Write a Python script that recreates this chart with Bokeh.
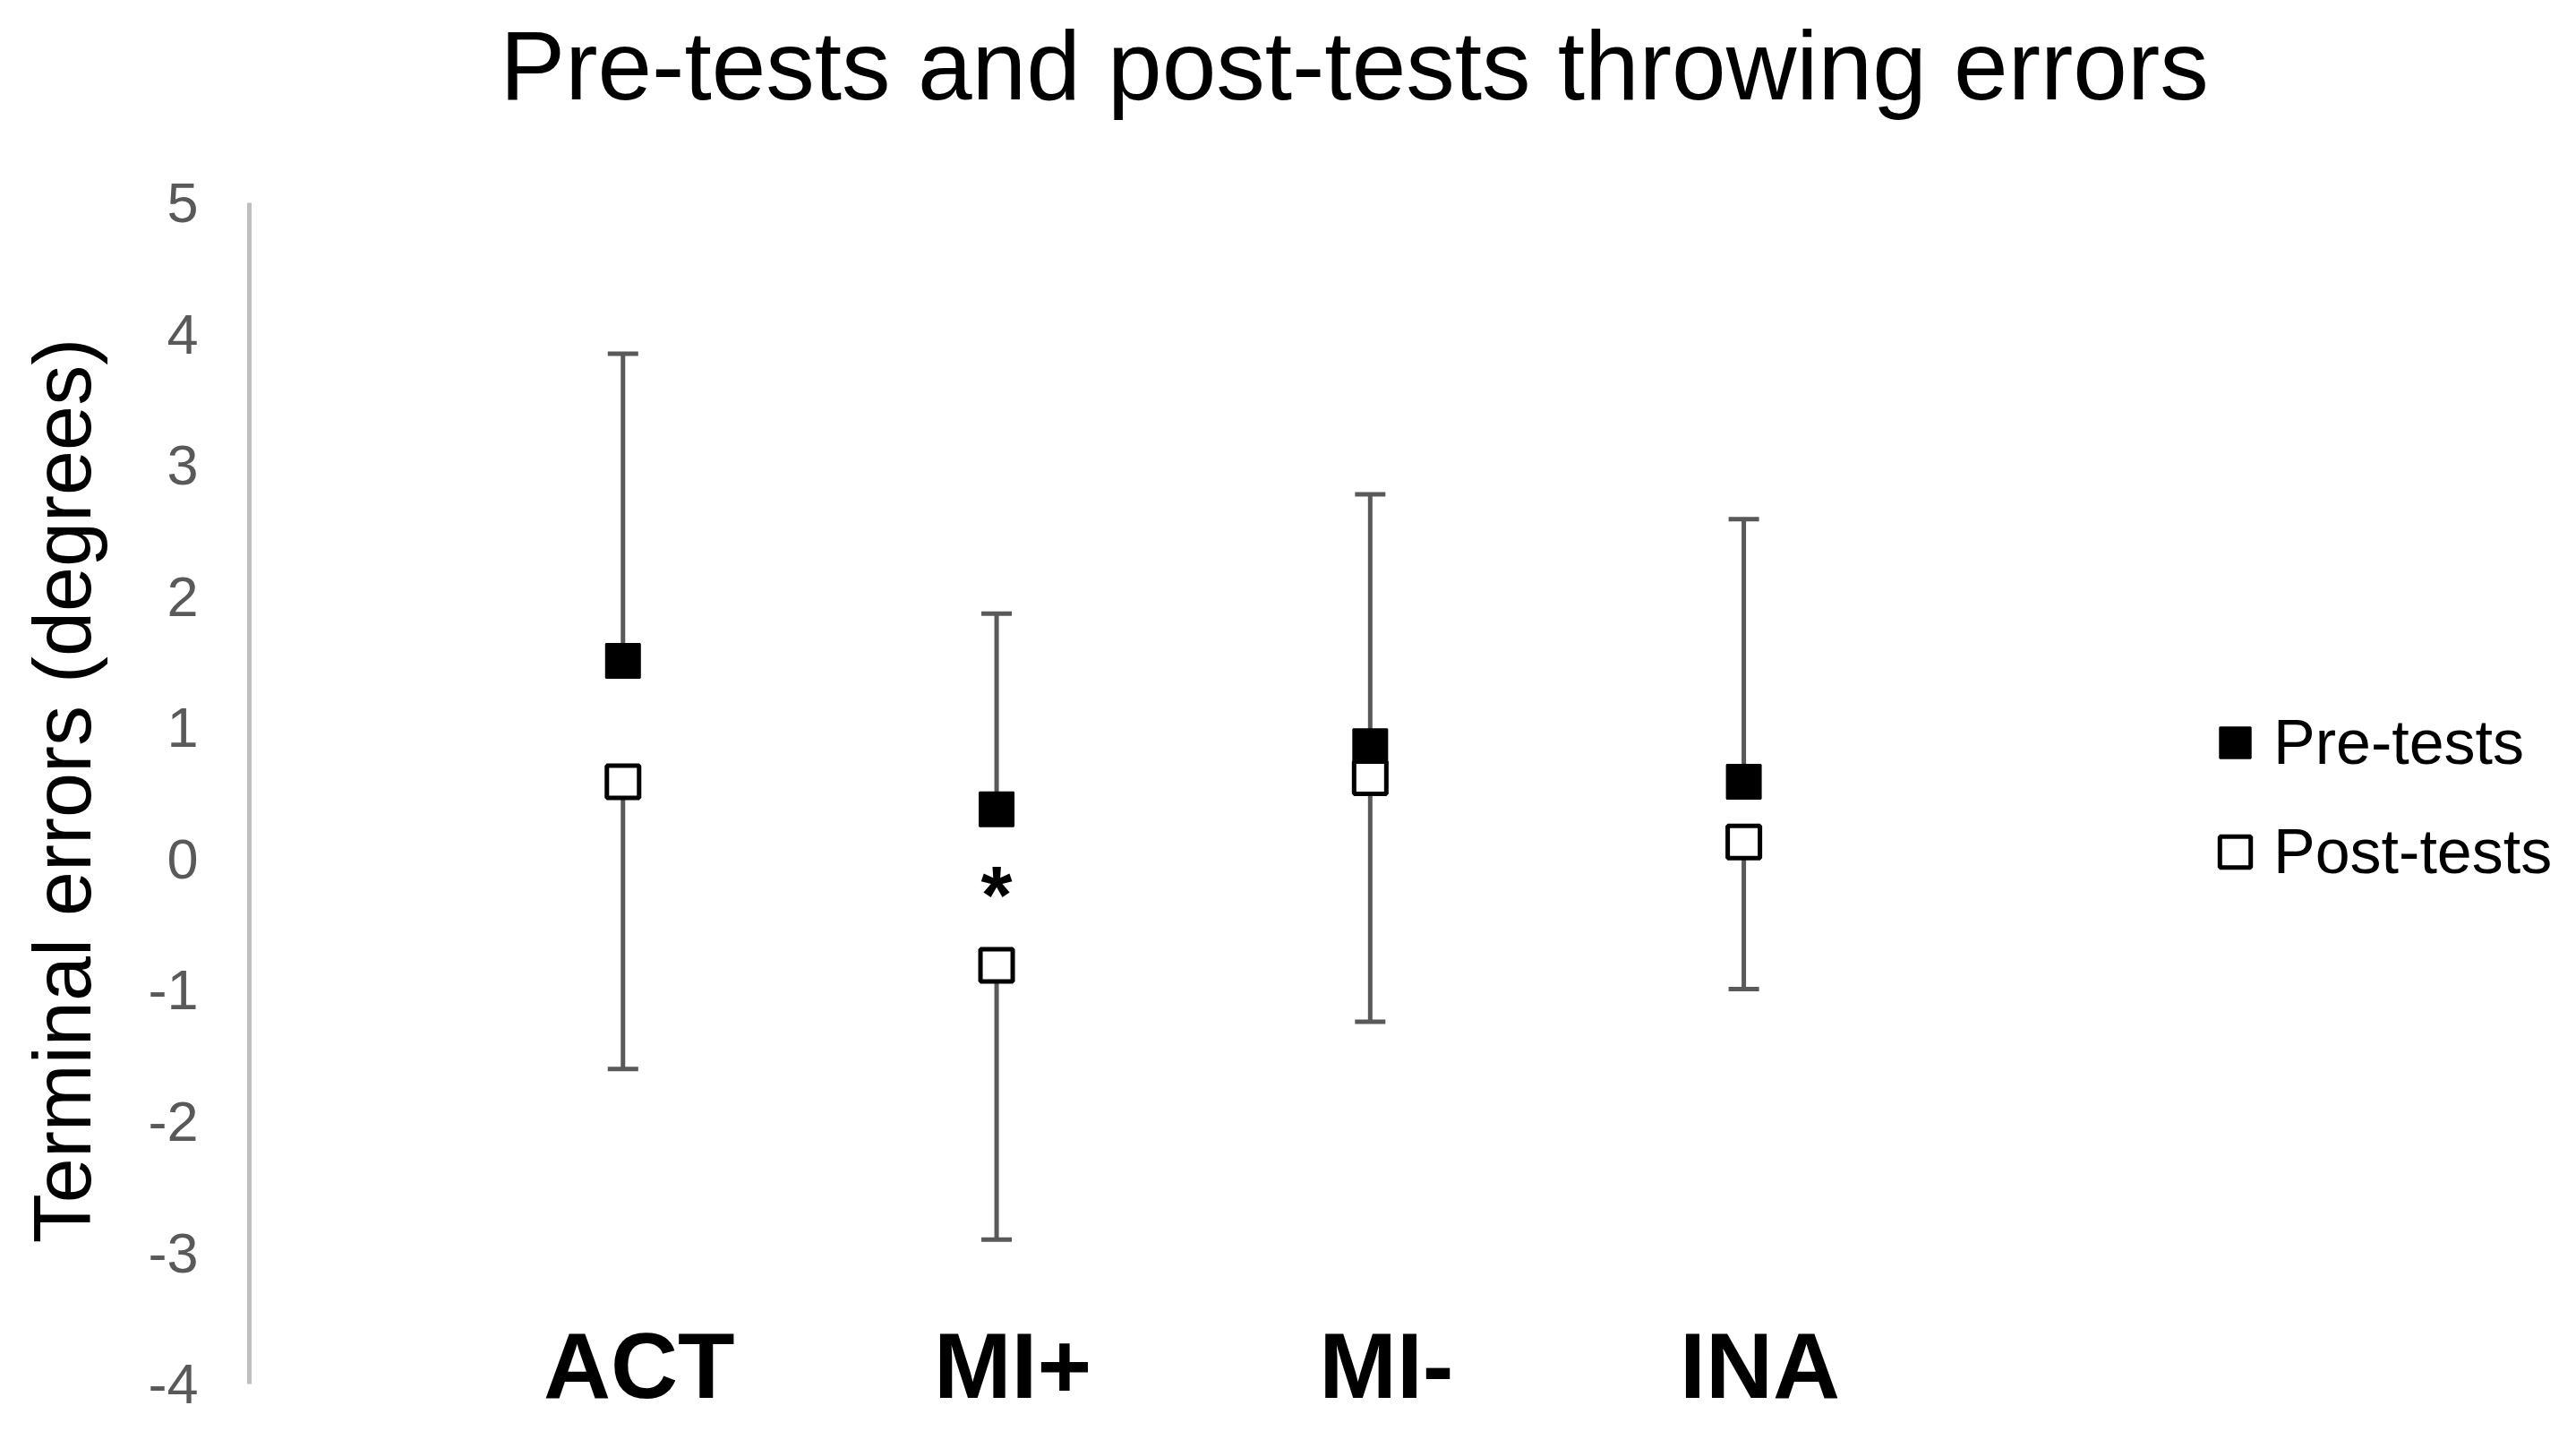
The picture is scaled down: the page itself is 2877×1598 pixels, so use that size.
from bokeh.plotting import figure
from bokeh.models import (ColumnDataSource, Whisker, TeeHead, Legend, LegendItem,
                          Range1d)
from bokeh.core.properties import value
from bokeh.embed import file_html
from bokeh.resources import INLINE

categories = ["ACT", "MI+", "MI-", "INA"]
pre_tests = [1.51, 0.38, 0.86, 0.59]
post_tests = [0.59, -0.81, 0.62, 0.13]
pre_upper = [3.85, 1.87, 2.78, 2.59]
post_lower = [-1.60, -2.90, -1.24, -0.99]
y_ticks = [-4, -3, -2, -1, 0, 1, 2, 3, 4, 5]
sig_categories = ["MI+"]
sig_y = [-0.18]
sig_text = ["*"]

FONT = "Liberation Sans"

xpos = list(range(len(categories)))
src = ColumnDataSource(dict(x=xpos, cat=categories, pre=pre_tests, post=post_tests,
                            hi=pre_upper, lo=post_lower))
sig_x = [categories.index(c) for c in sig_categories]

p = figure(width=2861, height=1582, output_backend="svg", toolbar_location=None,
           x_axis_location=None,
           x_range=Range1d(-1.0, 5.171),
           y_range=Range1d(-4.252, 5.635),
           min_border_left=278, min_border_right=8,
           min_border_top=133, min_border_bottom=0)
p.background_fill_color = "white"
p.border_fill_color = "white"
p.outline_line_color = None
p.grid.visible = False

p.title.text = "Pre-tests and post-tests throwing errors"
p.title.text_font = FONT
p.title.text_font_size = "109px"
p.title.text_font_style = "normal"
p.title.text_color = "black"
p.title.align = "left"
p.title.offset = 280
p.title.standoff = 0

# y axis
ya = p.yaxis[0]
ya.ticker = y_ticks
ya.bounds = (y_ticks[0], y_ticks[-1])
ya.major_label_overrides = {t: str(t) for t in y_ticks}
ya.axis_line_color = "#bfbfbf"
ya.axis_line_width = 5
ya.major_tick_line_color = None
ya.minor_tick_line_color = None
ya.major_label_text_font = FONT
ya.major_label_text_font_size = "63px"
ya.major_label_text_color = "#595959"
ya.major_label_standoff = 51
ya.axis_label = "Terminal errors (degrees)\u00a0\u00a0"
ya.axis_label_text_font = FONT
ya.axis_label_text_font_size = "90px"
ya.axis_label_text_font_style = "normal"
ya.axis_label_text_color = "black"
ya.axis_label_standoff = 42

# category labels (drawn at the bottom of the value axis)
p.text(x=xpos, y=[y_ticks[0]] * len(categories), text=categories,
       text_font=value(FONT), text_font_size="104px", text_font_style="bold",
       text_color="black", text_align="center", text_baseline="middle",
       x_offset=18, y_offset=-21)

# error bars
p.add_layout(Whisker(source=src, base="x", lower="pre", upper="hi",
                     line_color="#595959", line_width=5,
                     upper_head=TeeHead(size=34, line_color="#595959", line_width=5),
                     lower_head=None))
p.add_layout(Whisker(source=src, base="x", lower="lo", upper="post",
                     line_color="#595959", line_width=5,
                     lower_head=TeeHead(size=34, line_color="#595959", line_width=5),
                     upper_head=None))

r_pre = p.scatter(x="x", y="pre", source=src, marker="square", size=38,
                  fill_color="black", line_color="black", line_width=2)
r_post = p.scatter(x="x", y="post", source=src, marker="square", size=36,
                   fill_color="white", line_color="black", line_width=5)

p.text(x=sig_x, y=sig_y, text=sig_text, text_font=value(FONT),
       text_font_size="90px", text_font_style="bold", text_color="black",
       text_align="center", text_baseline="middle", y_offset=14)

legend = Legend(items=[LegendItem(label="Pre-tests", renderers=[r_pre]),
                       LegendItem(label="Post-tests", renderers=[r_post])],
                location=(2175, 581), orientation="vertical",
                glyph_width=86, glyph_height=100, label_height=100,
                label_standoff=0, spacing=22, padding=0, margin=0,
                label_text_font=FONT, label_text_font_size="70px",
                label_text_color="black", border_line_color=None,
                background_fill_alpha=0)
p.add_layout(legend, "center")

open("out.html", "w").write(file_html(p, INLINE))
